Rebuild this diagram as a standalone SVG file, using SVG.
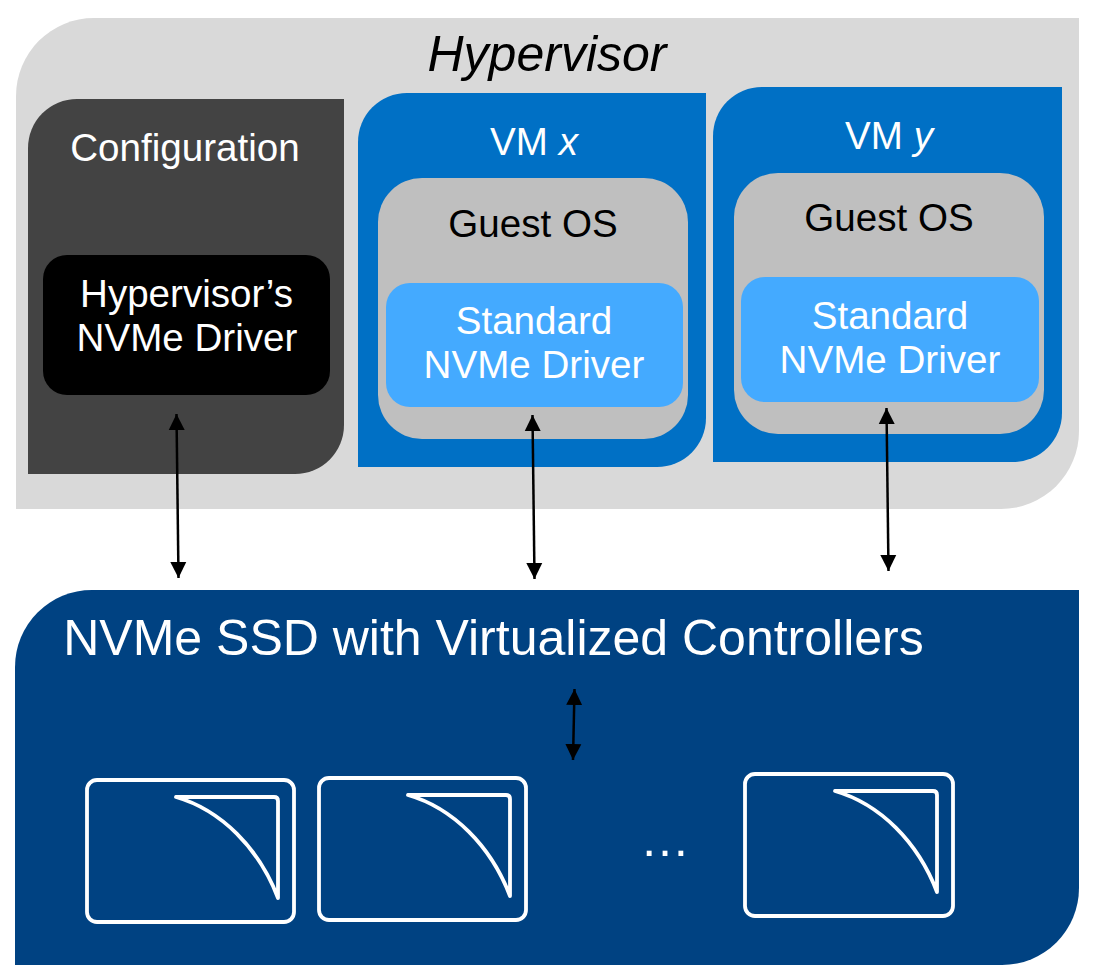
<svg xmlns="http://www.w3.org/2000/svg" width="1094" height="978" viewBox="0 0 1094 978">
<style>
text{font-family:"Liberation Sans",Arial,sans-serif;font-size:38.600px;text-anchor:middle}
.t{font-size:50px}
.w{fill:#fff}.k{fill:#000}
.c{stroke:#000;stroke-width:2.500;fill:none;marker-start:url(#a);marker-end:url(#a)}
.b{fill:none;stroke:#fff;stroke-width:3.800;stroke-linejoin:round;stroke-linecap:round}
</style>
<defs><marker id="a" markerUnits="userSpaceOnUse" markerWidth="18" markerHeight="18" refX="16" refY="8.500" orient="auto-start-reverse"><path d="M0 0.500L16 8.500L0 16.500Z" fill="#000"/></marker></defs>
<rect width="1094" height="978" fill="#fff"/>
<g id="hypervisor"><path d="M16 509V96A78 78 0 0 1 94 18H1079V431A78 78 0 0 1 1001 509Z" fill="#d9d9d9"/><text x="547" y="71" class="t k" font-style="italic">Hypervisor</text></g>
<g id="configuration"><path d="M28 474V148A49 49 0 0 1 77 99H344V425A49 49 0 0 1 295 474Z" fill="#434343"/><text x="185" y="161" class="w">Configuration</text></g>
<g id="hv-driver"><rect x="43" y="255" width="287" height="140" rx="24" fill="#000"/><text x="186.500" y="307" class="w">Hypervisor’s</text><text x="187" y="351" class="w">NVMe Driver</text></g>
<g id="vm-x"><path d="M358 467V142A49 49 0 0 1 407 93H706V418A49 49 0 0 1 657 467Z" fill="#0070c5"/><text x="534" y="155" class="w">VM <tspan font-style="italic">x</tspan></text></g>
<g id="guest-x"><rect x="378" y="178" width="310" height="261" rx="44" fill="#bfbfbf"/><text x="533" y="237" class="k">Guest OS</text></g>
<g id="driver-x"><rect x="386" y="283" width="297" height="124" rx="24" fill="#44aaff"/><text x="534" y="334" class="w">Standard</text><text x="534" y="378" class="w">NVMe Driver</text></g>
<g id="vm-y"><path d="M713 462V136A49 49 0 0 1 762 87H1062V413A49 49 0 0 1 1013 462Z" fill="#0070c5"/><text x="889" y="149" class="w">VM <tspan font-style="italic">y</tspan></text></g>
<g id="guest-y"><rect x="734" y="173" width="310" height="261" rx="44" fill="#bfbfbf"/><text x="889" y="231" class="k">Guest OS</text></g>
<g id="driver-y"><rect x="741" y="277" width="298" height="125" rx="24" fill="#44aaff"/><text x="890" y="329" class="w">Standard</text><text x="890" y="373" class="w">NVMe Driver</text></g>
<g id="ssd"><path d="M15 965V667A77 77 0 0 1 92 590H1079V888A77 77 0 0 1 1002 965Z" fill="#004282"/><text x="493.500" y="655" class="t w">NVMe SSD with Virtualized Controllers</text><text x="665" y="856" class="t w">…</text></g>
<g id="ctrl-1"><rect x="87" y="780" width="207" height="142" rx="10" class="b"/><path d="M176 797H274Q278 797 278 801V898C259 848 221 810 176 797Z" class="b"/></g>
<g id="ctrl-2"><rect x="319" y="778" width="207" height="142" rx="10" class="b"/><path d="M408 795H506Q510 795 510 799V896C491 846 453 808 408 795Z" class="b"/></g>
<g id="ctrl-3"><rect x="745" y="774" width="208" height="142" rx="10" class="b"/><path d="M835 791H933Q937 791 937 795V892C918 842 880 804 835 791Z" class="b"/></g>
<g id="connectors">
<line class="c" x1="176.500" y1="414" x2="178.500" y2="578"/>
<line class="c" x1="532.500" y1="415" x2="534.500" y2="579"/>
<line class="c" x1="886.500" y1="408" x2="888.500" y2="571"/>
<line class="c" x1="574.500" y1="689" x2="573" y2="760"/>
</g>
</svg>
